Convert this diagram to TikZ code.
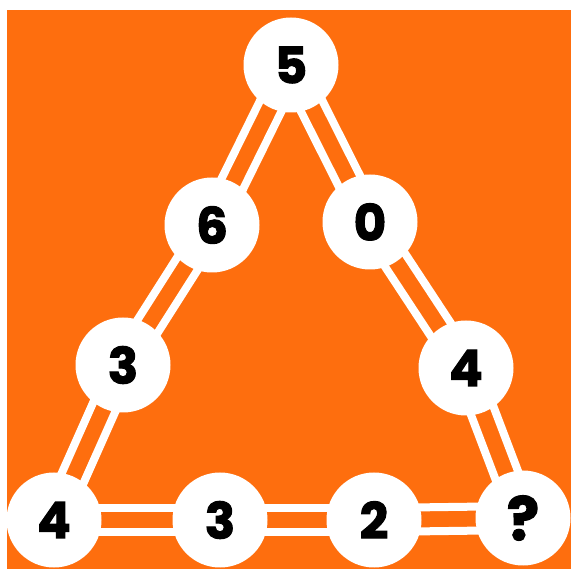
\documentclass[tikz,border=0pt]{standalone}
\usepackage{fontspec}
\setmainfont{Poppins}[BoldFeatures={FakeBold=2}]
\usetikzlibrary{calc}
\definecolor{bgorange}{RGB}{254,110,14}
\pgfdeclarelayer{bg}
\pgfdeclarelayer{lines}
\pgfsetlayers{bg,lines,main}
\tikzset{
  ball/.style={circle,fill=white,minimum size=95pt,inner sep=0pt,
    font=\fontsize{50}{50}\selectfont\bfseries,text=black},
  bigmark/.style={font=\fontsize{60}{60}\selectfont\bfseries},
  rail/.style={white,line width=8pt}
}
\newcommand\railpair[2]{%
  \draw[rail] ($(#1)!12pt!90:(#2)$) -- ($(#2)!12pt!-90:(#1)$);
  \draw[rail] ($(#1)!12pt!-90:(#2)$) -- ($(#2)!12pt!90:(#1)$);
}
\begin{document}
\begin{tikzpicture}[x=1pt,y=-1pt]
\useasboundingbox (0,0) rectangle (571,569);
\begin{pgfonlayer}{bg}
  \fill[white] (0,0) rectangle (571,569);
  \fill[bgorange] (7,10) rectangle (571,569);
\end{pgfonlayer}
\node[ball] (n5) at (291,65) {5};
\node[ball] (n6) at (212,225) {6};
\node[ball] (n3l) at (123,365) {3};
\node[ball] (n4l) at (54,520) {4};
\node[ball] (n3b) at (220,520) {3};
\node[ball] (n2b) at (374,520) {2};
\node[ball,bigmark] (nq) at (523,518) {?};
\node[ball] (n0) at (370,222) {0};
\node[ball] (n4r) at (466,368) {4};
\begin{pgfonlayer}{lines}
  \railpair{n5}{n6}
  \railpair{n6}{n3l}
  \railpair{n3l}{n4l}
  \railpair{n4l}{n3b}
  \railpair{n3b}{n2b}
  \railpair{n2b}{nq}
  \railpair{nq}{n4r}
  \railpair{n4r}{n0}
  \railpair{n0}{n5}
\end{pgfonlayer}
\end{tikzpicture}
\end{document}
